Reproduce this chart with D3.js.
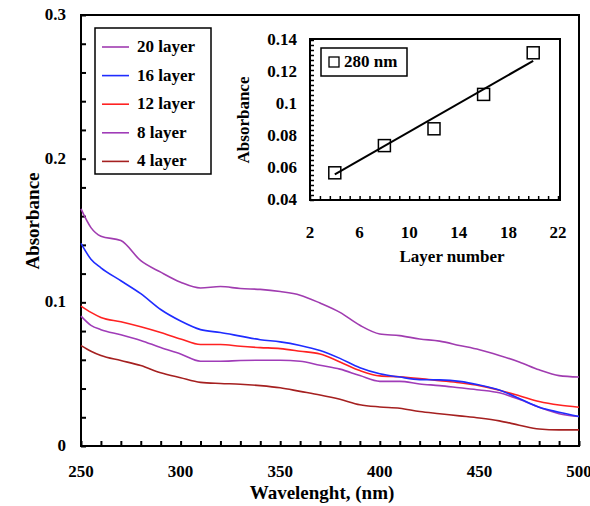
<!DOCTYPE html>
<html><head><meta charset="utf-8">
<script src="https://cdn.jsdelivr.net/npm/d3@7"></script>
<style>
html,body{margin:0;padding:0;background:#fff;}
</style></head>
<body><svg id="c" width="590" height="506" font-family="'Liberation Serif','DejaVu Serif',serif" font-weight="bold"></svg>
<script>
// ---- data ----
const wavelengths = [250,255,260,270,280,290,300,310,320,330,340,350,360,370,380,390,400,410,420,430,440,450,460,470,480,490,500];
const layer20 = [0.165,0.152,0.146,0.143,0.129,0.121,0.114,0.110,0.111,0.1096,0.109,0.1075,0.105,0.0995,0.093,0.084,0.078,0.0768,0.0745,0.073,0.070,0.067,0.063,0.0585,0.053,0.049,0.048];
const layer16 = [0.141,0.130,0.124,0.115,0.106,0.095,0.087,0.081,0.079,0.0765,0.074,0.0725,0.070,0.0665,0.061,0.0545,0.0503,0.048,0.0462,0.046,0.045,0.0425,0.039,0.033,0.027,0.0235,0.0205];
const layer12 = [0.0974,0.093,0.0895,0.0865,0.083,0.079,0.0745,0.0706,0.0706,0.0694,0.0685,0.0678,0.066,0.064,0.0585,0.0525,0.0488,0.0482,0.047,0.0455,0.044,0.042,0.0388,0.035,0.031,0.0285,0.027];
const layer8  = [0.0904,0.084,0.081,0.0775,0.0735,0.0685,0.064,0.059,0.059,0.0595,0.0597,0.0597,0.059,0.0562,0.0535,0.049,0.045,0.045,0.0432,0.042,0.0405,0.039,0.037,0.0325,0.027,0.0225,0.0205];
const layer4  = [0.0699,0.066,0.063,0.0595,0.056,0.051,0.0475,0.0443,0.0435,0.043,0.042,0.0405,0.038,0.0355,0.0325,0.0287,0.0272,0.0263,0.024,0.0225,0.021,0.0195,0.0175,0.0145,0.0118,0.0112,0.0112];
const seriesNames = ["20 layer","16 layer","12 layer","8 layer","4 layer"];
const seriesColors = ["#a03cb0","#1f2cff","#ff2222","#a03cb8","#a52020"];
const xTickLabels = [250,300,350,400,450,500];
const yTickLabels = [0,0.1,0.2,0.3];

const insetLayers = [4,8,12,16,20];
const insetAbs = [0.057,0.074,0.0845,0.106,0.132];
const fitLayers = [4,20];
const fitAbs = [0.056,0.127];
const insetXTicks = [2,6,10,14,18,22];
const insetYTicks = [0.04,0.06,0.08,0.1,0.12,0.14];
const insetLegend = "280 nm";

// ---- main chart ----
const svg = d3.select("#c");
const X0=81, X1=579, Y0=446, Y1=15;
const x = d3.scaleLinear().domain([250,500]).range([X0,X1]);
const y = d3.scaleLinear().domain([0,0.3]).range([Y0,Y1]);

svg.append("rect").attr("x",X0).attr("y",Y1).attr("width",X1-X0).attr("height",Y0-Y1)
  .attr("fill","none").attr("stroke","#000").attr("stroke-width",2);

const xAxis = d3.axisBottom(x).tickValues(d3.range(250,501,10)).tickSize(-5).tickFormat("");
svg.append("g").attr("transform",`translate(0,${Y0})`).call(xAxis)
  .call(g=>{g.select(".domain").remove(); g.selectAll("line").attr("stroke-width",2);});
const yAxis = d3.axisLeft(y).tickValues(d3.range(0,0.301,0.02)).tickSize(-5).tickFormat("");
svg.append("g").attr("transform",`translate(${X0},0)`).call(yAxis)
  .call(g=>{g.select(".domain").remove(); g.selectAll("line").attr("stroke-width",2);});

svg.selectAll(".xl").data(xTickLabels).enter().append("text")
  .attr("x",d=>x(d)).attr("y",477).attr("text-anchor","middle").attr("font-size",17).text(d=>d);
svg.selectAll(".yl").data(yTickLabels).enter().append("text")
  .attr("x",66).attr("y",d=>y(d)+5).attr("text-anchor","end").attr("font-size",17).text(d=>d);

svg.append("text").attr("x",322).attr("y",499).attr("text-anchor","middle").attr("font-size",19).text("Wavelenght, (nm)");
svg.append("text").attr("transform","translate(39,221) rotate(-90)").attr("text-anchor","middle").attr("font-size",19).text("Absorbance");

const allSeries = [layer20,layer16,layer12,layer8,layer4];
const line = d3.line().x((d,i)=>x(wavelengths[i])).y(d=>y(d)).curve(d3.curveMonotoneX);
for(let idx=allSeries.length-1; idx>=0; idx--){
  svg.append("path").datum(allSeries[idx]).attr("d",line).attr("fill","none")
    .attr("stroke",seriesColors[idx]).attr("stroke-width",1.6);
}

const lg = svg.append("g");
lg.append("rect").attr("x",95).attr("y",28).attr("width",116).attr("height",146)
  .attr("fill","#fff").attr("stroke","#000").attr("stroke-width",1.5);
seriesNames.forEach((n,i)=>{
  const yy = 47 + i*28.6;
  lg.append("line").attr("x1",102).attr("x2",129).attr("y1",yy).attr("y2",yy)
    .attr("stroke",seriesColors[i]).attr("stroke-width",1.6);
  lg.append("text").attr("x",137).attr("y",yy+5).attr("font-size",17).text(n);
});

// ---- inset ----
const IX0=310, IX1=560, IY0=200, IY1=39;
const ix = d3.scaleLinear().domain([2,22]).range([IX0,IX1-2]);
const iy = d3.scaleLinear().domain([0.04,0.14]).range([IY0,IY1+1]);
const ins = svg.append("g");
ins.append("rect").attr("x",IX0).attr("y",IY1).attr("width",IX1-IX0).attr("height",IY0-IY1)
  .attr("fill","none").attr("stroke","#000").attr("stroke-width",2);
const ixAxis = d3.axisBottom(ix).tickValues(d3.range(2,22.01,0.8)).tickSize(-4).tickFormat("");
ins.append("g").attr("transform",`translate(0,${IY0})`).call(ixAxis)
  .call(g=>{g.select(".domain").remove(); g.selectAll("line").attr("stroke-width",1.5);});
const iyAxis = d3.axisLeft(iy).tickValues(d3.range(0.04,0.1401,0.003125)).tickSize(-4).tickFormat("");
ins.append("g").attr("transform",`translate(${IX0},0)`).call(iyAxis)
  .call(g=>{g.select(".domain").remove(); g.selectAll("line").attr("stroke-width",1.5);});
ins.selectAll(".ixl").data(insetXTicks).enter().append("text")
  .attr("x",d=>ix(d)).attr("y",238).attr("text-anchor","middle").attr("font-size",17).text(d=>d);
ins.selectAll(".iyl").data(insetYTicks).enter().append("text")
  .attr("x",297).attr("y",d=>iy(d)+5).attr("text-anchor","end").attr("font-size",17).text(d=>d);
ins.append("text").attr("x",452).attr("y",262).attr("text-anchor","middle").attr("font-size",17).text("Layer number");
ins.append("text").attr("transform","translate(249,120) rotate(-90)").attr("text-anchor","middle").attr("font-size",17).text("Absorbance");
ins.append("line").attr("x1",ix(fitLayers[0])).attr("y1",iy(fitAbs[0]))
  .attr("x2",ix(fitLayers[1])).attr("y2",iy(fitAbs[1])).attr("stroke","#000").attr("stroke-width",2);
ins.selectAll(".pt").data(insetLayers).enter().append("rect")
  .attr("x",(d)=>ix(d)-6).attr("y",(d,i)=>iy(insetAbs[i])-6).attr("width",12).attr("height",12)
  .attr("fill","none").attr("stroke","#000").attr("stroke-width",1.5);
ins.append("rect").attr("x",321).attr("y",48).attr("width",86).attr("height",28)
  .attr("fill","#fff").attr("stroke","#000").attr("stroke-width",1.5);
ins.append("rect").attr("x",329).attr("y",57).attr("width",10).attr("height",10)
  .attr("fill","none").attr("stroke","#000").attr("stroke-width",1.3);
ins.append("text").attr("x",344).attr("y",67).attr("font-size",17).text(insetLegend);
</script></body></html>
